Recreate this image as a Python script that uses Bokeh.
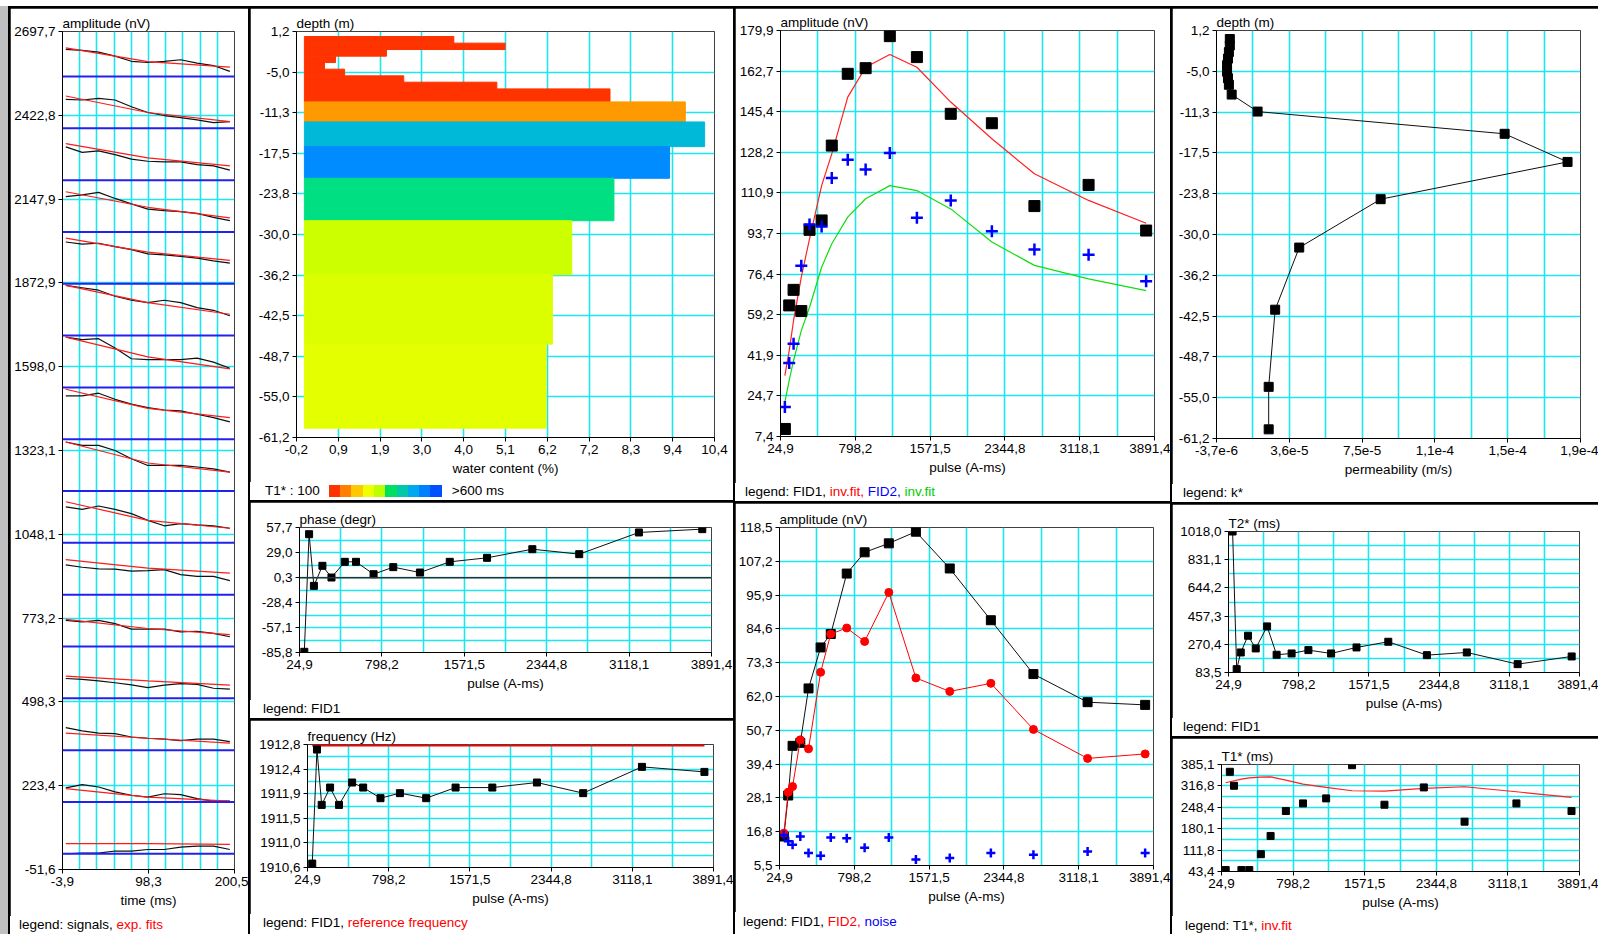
import numpy as np
from bokeh.plotting import figure
from bokeh.models import Range1d, FixedTicker, Span, Spacer, Div
from bokeh.layouts import row, column
from bokeh.embed import file_html
from bokeh.resources import INLINE

FONT = "Liberation Sans"
FS = "13.5px"
GRID = "#1ee6ee"
BLK = "#101010"

# ---------------- data ----------------
# signals panel
sig_time = [0, 19.5, 39, 58.5, 78, 97.5, 117, 136.5, 156, 175.5, 195]
fit_time = [0, 97.5, 195]
baselines = [2550, 2380, 2210, 2040, 1870, 1700, 1530, 1360,
             1190, 1020, 850, 680, 510, 340, 170, 0]
signals = [
    [89, 86, 80, 67, 50, 46, 50, 55, 44, 36, 17],
    [95, 93, 98, 93, 71, 52, 42, 35, 28, 19, 22],
    [109, 91, 96, 84, 69, 62, 60, 60, 51, 47, 33],
    [116, 122, 130, 110, 92, 75, 70, 67, 61, 48, 37],
    [137, 130, 133, 122, 112, 98, 95, 90, 84, 75, 68],
    [165, 157, 149, 129, 116, 108, 116, 108, 92, 83, 65],
    [165, 157, 160, 129, 94, 91, 91, 91, 96, 83, 63],
    [142, 142, 151, 131, 115, 104, 96, 93, 82, 71, 57],
    [161, 150, 150, 133, 106, 84, 84, 84, 79, 73, 62],
    [118, 110, 121, 110, 96, 74, 56, 63, 59, 56, 48],
    [98, 90, 85, 84, 77, 79, 82, 66, 60, 60, 46],
    [86, 81, 86, 75, 57, 57, 57, 48, 50, 43, 32],
    [65, 62, 57, 51, 44, 35, 43, 48, 46, 33, 30],
    [74, 63, 56, 54, 43, 39, 36, 31, 36, 36, 28],
    [46, 57, 49, 33, 22, 16, 27, 24, 11, 3, 3],
    [0, 2, 2, 9, 9, 14, 14, 22, 25, 25, 14],
]
exp_fits = [
    [94, 49, 31], [106, 52, 22], [120, 73, 47], [132, 81, 46],
    [150, 104, 77], [165, 108, 70], [165, 100, 61], [164, 101, 71],
    [161, 92, 62], [135, 74, 48], [115, 87, 71], [89, 59, 39],
    [73, 57, 43], [56, 39, 23], [44, 16, 3], [33, 33, 31],
]
sig_x_labels = ["-3,9", "98,3", "200,5"]
sig_y_labels = ["-51,6", "223,4", "498,3", "773,2", "1048,1", "1323,1",
                "1598,0", "1872,9", "2147,9", "2422,8", "2697,7"]

# water content panel
layer_top = [0.43, -0.59, -1.57, -2.59, -3.57, -4.59, -5.62, -6.59, -7.62,
             -9.62, -12.70, -16.49, -21.36, -27.88, -36.18, -46.85]
layer_bottom = [-0.59, -1.57, -2.59, -3.57, -4.59, -5.62, -6.59, -7.62, -9.62,
                -12.70, -16.49, -21.36, -27.88, -36.18, -46.85, -59.77]
water = [3.79, 5.09, 2.08, 0.79, 0.51, 1.02, 2.52, 4.88, 7.75,
         9.66, 10.15, 9.26, 7.85, 6.78, 6.29, 6.13]
layer_colors = ["#ff3300"] * 9 + ["#ff9900", "#00b8d8", "#008cff", "#00e082",
                                  "#ccff00", "#dcff00", "#e4ff00"]
t1_palette = ["#ff3300", "#ff8000", "#ffc800", "#eeff00", "#bbff00",
              "#00e060", "#00c8a8", "#00a8f0", "#0080ff", "#0050ff"]
wc_x_labels = ["-0,2", "0,9", "1,9", "3,0", "4,0", "5,1", "6,2", "7,2", "8,3", "9,4", "10,4"]
depth_labels = ["-61,2", "-55,0", "-48,7", "-42,5", "-36,2", "-30,0",
                "-23,8", "-17,5", "-11,3", "-5,0", "1,2"]

# pulse-moment panels
pulses = [70, 115, 160, 240, 325, 450, 555, 720, 905, 1155, 1435, 1785, 2210, 2650, 3210, 3805]
pulse_labels = ["24,9", "798,2", "1571,5", "2344,8", "3118,1", "3891,4"]

a_fid1 = [10.6, 63.1, 69.7, 60.7, 95.2, 99.2, 131.0, 161.5, 163.9, 177.5, 168.6, 144.5, 140.5, 105.3, 114.3, 94.9]
a_fid2 = [19.9, 38.6, 46.8, 80.0, 97.5, 96.6, 117.2, 125.0, 120.8, 127.9, 100.3, 107.7, 94.6, 86.8, 84.6, 73.4]
a_fit1 = [33.3, 43.9, 56.7, 75.1, 91.4, 114.0, 127.5, 151.6, 164.3, 169.7, 164.3, 149.5, 133.9, 119.0, 107.7, 98.0]
a_fit2 = [22.0, 31.2, 39.7, 52.4, 62.3, 79.3, 89.3, 100.6, 108.4, 114.0, 111.9, 104.1, 90.0, 80.1, 74.4, 69.4]
a_y_labels = ["7,4", "24,7", "41,9", "59,2", "76,4", "93,7", "110,9", "128,2", "145,4", "162,7", "179,9"]

b_fid1 = [15.2, 28.9, 45.5, 46.5, 64.7, 78.4, 82.9, 103.1, 110.2, 113.2, 117.1, 104.8, 87.5, 69.5, 60.1, 59.2]
b_fid2 = [16.3, 30.0, 31.9, 47.5, 44.5, 70.1, 82.9, 84.9, 80.4, 96.8, 68.2, 63.7, 66.4, 51.0, 41.3, 42.8]
b_noise = [15.7, 13.6, 12.4, 15.2, 9.7, 8.8, 14.9, 14.6, 11.4, 14.9, 7.5, 8.0, 9.7, 9.1, 10.2, 9.7]
b_y_labels = ["5,5", "16,8", "28,1", "39,4", "50,7", "62,0", "73,3", "84,6", "95,9", "107,2", "118,5"]

phase = [-85.0, 50.0, -9.3, 13.7, 0.3, 18.3, 18.3, 4.1, 12.2, 6.0, 18.3, 22.9, 32.8, 27.1, 52.0, 55.8]
phase_labels = ["-85,8", "-57,1", "-28,4", "0,3", "29,0", "57,7"]

freq = [1910.67, 1912.71, 1911.72, 1912.03, 1911.72, 1912.12, 1912.03, 1911.84,
        1911.93, 1911.84, 1912.03, 1912.03, 1912.12, 1911.93, 1912.40, 1912.31]
ref_freq = 1912.78
freq_labels = ["1910,6", "1911,0", "1911,5", "1911,9", "1912,4", "1912,8"]

k_depth = [-0.1, -1.1, -2.1, -3.1, -4.1, -5.1, -6.1, -7.1, -8.6,
           -11.2, -14.6, -18.9, -24.6, -32.0, -41.5, -53.3, -59.8]
k_perm = [3.5e-6, 3.5e-6, 3.0e-6, 2.5e-6, 2.0e-6, 2.0e-6, 2.5e-6, 3.0e-6, 4.5e-6,
          1.85e-5, 1.52e-4, 1.86e-4, 8.5e-5, 4.1e-5, 2.8e-5, 2.45e-5, 2.45e-5]
k_labels = ["-3,7e-6", "3,6e-5", "7,5e-5", "1,1e-4", "1,5e-4", "1,9e-4"]

t2 = [1018.0, 105.6, 216.3, 327.1, 243.0, 389.0, 201.0, 209.7, 231.9, 209.7, 249.6, 287.2, 198.6, 216.3, 138.8, 189.8]
t2_labels = ["83,5", "270,4", "457,3", "644,2", "831,1", "1018,0"]

t1 = [48, 361.8, 317.2, 48, 48, 98.6, 156.9, 236.5, 260.9, 276.9, 383.0, 256.7, 311.9, 202.6, 260.9, 236.5]
t1_fit = [326.7, 329.9, 333.1, 338.4, 342.6, 344.8, 345.8, 335.2, 322.5, 311.9, 301.3, 300.2, 308.7, 314.0, 298.0, 280.0]
t1_labels = ["43,4", "111,8", "180,1", "248,4", "316,8", "385,1"]


# ---------------- helpers ----------------
def lin(lo, hi, n):
    return [float(v) for v in np.linspace(lo, hi, n)]


def make_fig(w, h, l, r, t, b, xlo, xhi, xlabels, xgn, ylo, yhi, ylabels, ygn, xtitle, ytitle):
    p = figure(width=w, height=h, output_backend="svg", toolbar_location=None,
               x_range=Range1d(xlo, xhi), y_range=Range1d(ylo, yhi), title=ytitle,
               min_border_left=l, min_border_right=r, min_border_top=t, min_border_bottom=b)
    xpos = lin(xlo, xhi, len(xlabels))
    ypos = lin(ylo, yhi, len(ylabels))
    p.xaxis.ticker = FixedTicker(ticks=xpos, minor_ticks=[])
    p.xaxis.major_label_overrides = dict(zip(xpos, xlabels))
    p.yaxis.ticker = FixedTicker(ticks=ypos, minor_ticks=[])
    p.yaxis.major_label_overrides = dict(zip(ypos, ylabels))
    p.xgrid.ticker = FixedTicker(ticks=lin(xlo, xhi, xgn))
    p.ygrid.ticker = FixedTicker(ticks=lin(ylo, yhi, ygn))
    for g in (p.xgrid, p.ygrid):
        g.grid_line_color = GRID
        g.grid_line_width = 1.6
    for ax in (p.xaxis, p.yaxis):
        ax.axis_line_color = "black"
        ax.major_tick_line_color = "black"
        ax.major_tick_out = 4
        ax.major_tick_in = 0
        ax.minor_tick_line_color = None
        ax.major_label_text_font = FONT
        ax.major_label_text_font_size = FS
        ax.major_label_text_color = "black"
        ax.major_label_standoff = 3
        ax.axis_label_text_font = FONT
        ax.axis_label_text_font_size = FS
        ax.axis_label_text_font_style = "normal"
        ax.axis_label_text_color = "black"
        ax.axis_label_standoff = 4
    p.xaxis.axis_label = xtitle
    p.title.align = "left"
    p.title.offset = 0
    p.title.standoff = 1
    p.title.text_font = FONT
    p.title.text_font_size = FS
    p.title.text_font_style = "normal"
    p.title.text_color = "black"
    p.outline_line_color = "#404040"
    p.background_fill_color = "white"
    p.border_fill_color = "white"
    return p


def legend_div(w, h, pad, inner, lh=18):
    html = ("<div style=\"padding-left:%dpx; font-family:'Liberation Sans'; font-size:13.5px; "
            "line-height:%dpx; white-space:pre; color:black;\">%s</div>" % (pad, lh, inner))
    return Div(text=html, width=w, height=h, margin=0,
               styles={"background-color": "white", "overflow": "hidden"})


def parts(items):
    return "".join("<span style=\"color:%s\">%s</span>" % (c, t) for t, c in items)


# ---------------- panel 1: signals ----------------
p1 = make_fig(238, 908, 52, 14, 23, 47, -3.9, 200.5, sig_x_labels, 11,
              -51.6, 2697.7, sig_y_labels, 11, "time (ms)", "amplitude (nV)")
for base, s, f in zip(baselines, signals, exp_fits):
    p1.add_layout(Span(location=base, dimension="width", line_color="#2222ee", line_width=2))
    p1.line(sig_time, [base + v for v in s], line_color=BLK, line_width=1.2)
    p1.line(fit_time, [base + v for v in f], line_color="#ff1a1a", line_width=1.2)
d1 = legend_div(238, 18, 9, parts([("legend: signals, ", "black"), ("exp. fits", "#ff0000")]))

# ---------------- panel 2: water content ----------------
p2 = make_fig(483, 474, 46, 19, 23, 45, -0.2, 10.4, wc_x_labels, 11,
              -61.2, 1.2, depth_labels, 11, "water content (%)", "depth (m)")
p2.quad(left=[0] * len(water), right=water, top=layer_top, bottom=layer_bottom,
        fill_color=layer_colors, line_color=layer_colors, line_width=1)
boxes = "".join("<span style=\"display:inline-block; width:11.3px; height:12px; "
                "vertical-align:-2px; background:%s\"></span>" % c for c in t1_palette)
d2 = legend_div(483, 18, 15,
                "T1* : 100<span style=\"display:inline-block; width:9px\"></span>" + boxes +
                "<span style=\"display:inline-block; width:10px\"></span>&gt;600 ms")

# ---------------- panel 3: phase ----------------
p3 = make_fig(483, 198, 49, 22, 25, 48, 24.9, 3891.4, pulse_labels, 11,
              -85.8, 57.7, phase_labels, 11, "pulse (A-ms)", "phase (degr)")
p3.add_layout(Span(location=0, dimension="width", line_color="#303030", line_width=1.5))
p3.line(pulses, phase, line_color=BLK, line_width=1)
p3.scatter(pulses, phase, marker="square", size=7, color="black")
d3 = legend_div(483, 18, 13, parts([("legend: FID1", "black")]))

# ---------------- panel 4: frequency ----------------
p4 = make_fig(483, 194, 57, 20, 24, 47, 24.9, 3891.4, pulse_labels, 11,
              1910.6, 1912.8, freq_labels, 11, "pulse (A-ms)", "frequency (Hz)")
p4.line([pulses[0], pulses[-1]], [ref_freq, ref_freq], line_color="#ff0000", line_width=2)
p4.line(pulses, freq, line_color=BLK, line_width=1)
p4.scatter(pulses, freq, marker="square", size=7, color="black")
d4 = legend_div(483, 20, 13, parts([("legend: FID1, ", "black"), ("reference frequency", "#ff0000")]))

# ---------------- panel 5: amplitudes + inversion fits ----------------
p5 = make_fig(435, 475, 45, 16, 22, 47, 24.9, 3891.4, pulse_labels, 11,
              7.4, 179.9, a_y_labels, 11, "pulse (A-ms)", "amplitude (nV)")
p5.line(pulses, a_fit1, line_color="#ff2020", line_width=1.2)
p5.line(pulses, a_fit2, line_color="#10dd10", line_width=1.2)
p5.scatter(pulses, a_fid1, marker="square", size=11, color="black")
p5.scatter(pulses, a_fid2, marker="cross", size=12, line_color="#0000ff", line_width=2.5)
d5 = legend_div(435, 18, 10, parts([("legend: FID1, ", "black"), ("inv.fit, ", "#ff0000"),
                                    ("FID2, ", "#0000ff"), ("inv.fit", "#00cc00")]))

# ---------------- panel 6: FID1 / FID2 / noise ----------------
p6 = make_fig(435, 409, 44, 17, 24, 47, 24.9, 3891.4, pulse_labels, 11,
              5.5, 118.5, b_y_labels, 11, "pulse (A-ms)", "amplitude (nV)")
p6.line(pulses, b_fid1, line_color=BLK, line_width=1)
p6.scatter(pulses, b_fid1, marker="square", size=9, color="black")
p6.line(pulses, b_fid2, line_color="#ff0000", line_width=1)
p6.scatter(pulses, b_fid2, marker="circle", size=8, color="#ff0000")
p6.scatter(pulses, b_noise, marker="cross", size=9, line_color="#0000ff", line_width=2.5)
d6 = legend_div(435, 22, 8, parts([("legend: FID1, ", "black"), ("FID2, ", "#ff0000"),
                                   ("noise", "#0000ff")]), lh=20)

# ---------------- panel 7: permeability ----------------
p7 = make_fig(426, 476, 44, 18, 22, 46, -3.7e-6, 1.93e-4, k_labels, 11,
              -61.2, 1.2, depth_labels, 11, "permeability (m/s)", "depth (m)")
p7.line(k_perm, k_depth, line_color=BLK, line_width=1)
p7.scatter(k_perm, k_depth, marker="square", size=9, color="black")
d7 = legend_div(426, 18, 11, parts([("legend: k*", "black")]))

# ---------------- panel 8: T2* ----------------
p8 = make_fig(426, 214, 56, 19, 27, 46, 24.9, 3891.4, pulse_labels, 11,
              83.5, 1018.0, t2_labels, 11, "pulse (A-ms)", "T2* (ms)")
p8.line(pulses, t2, line_color=BLK, line_width=1)
p8.scatter(pulses, t2, marker="square", size=7, color="black")
d8 = legend_div(426, 18, 11, parts([("legend: FID1", "black")]))

# ---------------- panel 9: T1* ----------------
p9 = make_fig(426, 178, 49, 19, 26, 45, 24.9, 3891.4, pulse_labels, 11,
              43.4, 385.1, t1_labels, 11, "pulse (A-ms)", "T1* (ms)")
p9.line(pulses, t1_fit, line_color="#ff2020", line_width=1.2)
p9.scatter(pulses, t1, marker="square", size=7, color="black")
d9 = legend_div(426, 18, 13, parts([("legend: T1*, ", "black"), ("inv.fit", "#ff0000")]), lh=20)

# ---------------- layout ----------------
BG = {"background-color": "black"}
col1 = column(column(p1, d1), spacing=2, styles=BG)
col2 = column(column(p2, d2), column(p3, d3), column(p4, d4), spacing=2, styles=BG)
col3 = column(column(p5, d5), column(p6, d6), spacing=2, styles=BG)
col4 = column(column(p7, d7), column(p8, d8), column(p9, d9), spacing=2, styles=BG)
body = row(col1, col2, col3, col4, spacing=2, styles=BG)
page = column(
    Spacer(width=1598, height=6),
    row(
        Spacer(width=8, height=928, styles={"background-color": "#c0c0c0"}),
        Spacer(width=2, height=928, styles=BG),
        column(Spacer(width=1588, height=2, styles=BG), body),
    ),
)

open("out.html", "w").write(file_html(page, INLINE))
